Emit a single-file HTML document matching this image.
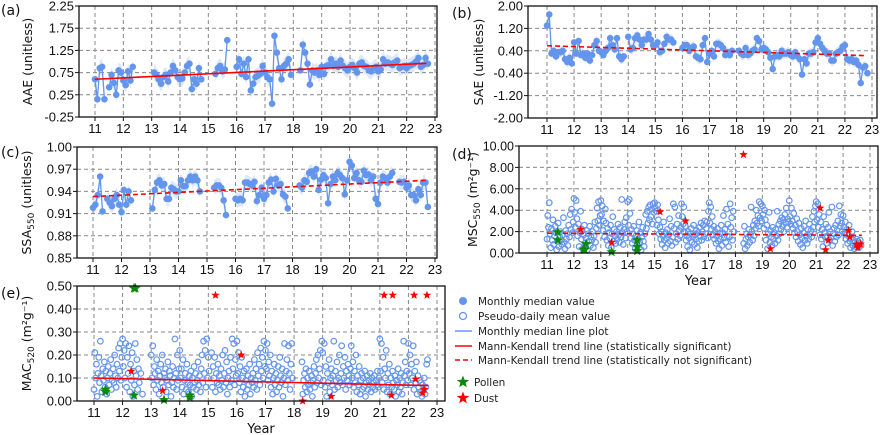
<!DOCTYPE html>
<html><head><meta charset="utf-8"><style>
html,body{margin:0;padding:0;background:#fff;}
svg{display:block;font-family:"DejaVu Sans","Liberation Sans",sans-serif;}
</style></head><body>
<svg id="fig" width="880" height="435" viewBox="0 0 880 435" xmlns="http://www.w3.org/2000/svg">
<g id="legend" font-size="10.5" fill="#222">
 <circle cx="463" cy="301" r="4" fill="#6495ED"/>
 <text x="478" y="305">Monthly median value</text>
 <circle cx="463" cy="316" r="3.5" fill="none" stroke="#6495ED" stroke-width="1.3"/>
 <text x="478" y="320">Pseudo-daily mean value</text>
 <line x1="455" y1="331" x2="472" y2="331" stroke="#6495ED" stroke-width="1.5"/>
 <text x="478" y="335">Monthly median line plot</text>
 <line x1="455" y1="346" x2="472" y2="346" stroke="#f00" stroke-width="1.5"/>
 <text x="478" y="350">Mann-Kendall trend line (statistically significant)</text>
 <line x1="455" y1="360" x2="472" y2="360" stroke="#f00" stroke-width="1.5" stroke-dasharray="5,3"/>
 <text x="478" y="364">Mann-Kendall trend line (statistically not significant)</text>
 <text x="474" y="386">Pollen</text>
 <text x="474" y="402">Dust</text>
</g>
</svg>
<script>
// ---------- data ----------
const aaeMonthly=[0.6,0.15,0.85,0.88,0.15,null,0.42,0.7,0.52,0.25,0.8,0.75,
0.57,0.47,0.78,0.57,0.88,null,null,null,null,null,null,null,
null,0.75,0.7,0.6,0.5,0.65,0.7,0.55,0.75,0.9,0.8,0.65,
0.6,0.62,0.75,0.9,0.95,0.38,0.6,0.5,0.85,0.6,null,null,
null,null,null,0.72,0.85,0.9,0.78,0.82,1.48,null,null,null,
0.88,1.05,0.72,0.95,0.65,1.05,0.35,0.5,0.65,0.68,0.72,0.9,
0.75,0.65,0.6,0.05,1.58,1.2,0.85,0.6,0.9,0.95,1.05,0.7,
null,null,null,0.8,1.38,1.2,0.95,0.48,0.8,0.75,0.8,0.7,
0.88,0.72,0.9,0.92,1.05,0.9,0.95,0.88,1.02,0.9,0.85,0.8,
0.88,0.92,0.85,0.75,0.95,0.98,0.9,0.88,0.8,0.78,0.85,0.88,
0.78,0.82,1.05,0.95,0.98,0.95,0.92,0.98,1.02,0.85,0.88,0.9,
0.85,0.9,0.92,0.95,1.0,1.08,0.88,0.92,1.08,0.95];
const saeMonthly=[1.3,1.7,0.3,0.4,0.2,0.35,0.35,0.4,0.1,0.0,0.15,-0.05,
0.7,0.3,0.75,0.25,0.3,0.15,0.3,0.05,0.25,0.6,0.75,0.4,
0.35,0.25,0.4,0.5,0.85,0.6,0.45,0.85,0.2,0.1,0.2,null,
0.9,0.45,0.5,0.85,0.95,0.8,0.6,0.8,0.8,1.0,0.8,0.6,
0.6,0.7,0.35,0.4,0.65,0.9,0.8,0.8,0.7,null,null,null,
0.5,0.6,0.6,0.4,0.5,0.55,0.2,0.15,0.1,0.6,0.85,0.0,
0.3,0.4,0.2,0.65,0.65,0.6,0.5,0.25,0.35,0.25,0.4,null,
null,0.4,0.3,0.25,0.5,0.25,0.3,0.4,0.45,0.85,0.75,0.45,
0.5,0.45,0.35,0.15,-0.25,0.2,0.25,0.2,0.4,0.3,0.3,0.35,
0.25,0.2,0.35,0.2,0.1,-0.45,0.1,-0.05,0.3,0.3,0.35,0.7,
0.85,0.65,0.5,0.4,0.3,0.3,0.05,0.05,0.3,0.35,0.4,0.55,
0.6,0.1,0.05,0.1,0.0,0.05,-0.1,-0.75,-0.2,-0.15,-0.4];
const ssaMonthly=[0.918,0.922,0.935,0.96,0.913,null,0.93,0.925,0.92,0.93,0.935,0.922,
0.912,0.942,0.922,0.94,0.928,null,null,null,null,null,null,null,
null,0.917,0.942,0.952,0.955,0.948,0.95,0.93,0.93,0.945,0.943,0.94,
0.94,0.955,0.947,0.947,0.955,0.96,0.955,0.96,0.955,0.94,null,null,
null,null,null,0.945,0.948,0.948,0.945,0.928,0.908,null,null,null,
0.93,0.928,0.93,0.928,0.952,0.952,0.95,0.948,0.953,0.927,0.935,0.945,
0.93,0.935,0.952,0.956,0.94,0.957,0.948,0.95,0.936,0.933,0.917,null,
null,null,null,0.948,0.945,0.955,0.953,0.965,0.967,0.96,0.97,0.942,
0.956,0.962,0.958,0.924,0.95,0.96,0.955,0.965,0.962,0.958,0.936,0.955,
0.98,0.975,0.958,0.965,0.955,0.953,0.968,0.962,0.963,0.955,0.96,0.93,
0.923,0.952,0.96,0.958,0.952,0.96,0.965,null,null,0.953,0.952,0.953,
0.945,0.948,0.935,0.935,0.928,0.943,0.935,0.952,0.952,0.919];

const dailyYears=[11,12,13,14,15,16,17,18,19,20,21,22];
const mscDaily=[
[1.3,3.5,2.4,4.7,1.8,0.5,2.3,1.2,3.1,0.8,1.6,2.5,1.9,0.3,1.1,2.8,0.6,1.5,2.0,1.2,0.8,1.7,3.3,1.0,0.4,2.1,1.3,1.8,0.7,2.6,1.5,3.6,2.2,4.1,1.9,2.9],
[5.1,3.8,2.4,4.9,3.2,1.6,2.7,0.6,1.9,3.9,1.3,2.2,0.4,1.7,2.6,0.9,1.4,2.1,0.3,1.8,1.1,2.5,0.7,1.5,1.2,2.0,0.5,1.6,2.9,1.0,2.3,4.2,3.0,4.8,2.6,3.5],
[4.9,3.6,4.4,2.1,3.0,1.5,4.1,2.8,1.2,2.3,0.7,1.9,1.4,2.6,0.5,1.8,3.4,1.1,2.2,1.6,0.9,2.0,1.3,2.7,1.7,1.0,2.4,1.5,5.0,1.9,0.8,2.2,2.9,1.4,3.3,2.0],
[4.8,2.6,5.0,3.7,1.4,2.2,0.9,1.8,2.5,1.2,0.4,1.6,2.1,0.7,1.3,2.9,1.0,1.9,0.3,1.5,2.4,1.1,0.6,1.8,3.6,2.3,3.9,2.8,4.3,3.1,4.5,3.4,4.1,2.7,4.6,3.8],
[4.7,4.2,3.9,2.6,4.5,3.1,1.8,2.4,1.3,2.0,0.8,1.6,2.9,1.2,0.5,1.9,1.4,2.2,0.9,1.7,3.2,1.1,2.5,0.7,1.5,4.6,2.3,4.3,1.0,1.8,2.7,1.3,3.5,2.1,1.6,2.4],
[4.6,3.4,2.7,4.3,1.9,2.5,1.2,1.6,0.6,2.0,1.4,0.3,1.8,2.3,1.0,1.5,2.6,0.8,1.7,1.3,2.1,0.5,1.9,1.1,2.4,1.6,2.8,1.2,2.0,2.6,1.5,3.0,1.8,2.3,2.9,1.4],
[3.9,4.7,2.8,4.3,2.2,3.4,1.7,2.5,1.3,2.0,0.9,1.6,2.3,1.1,0.4,1.8,1.3,2.6,0.7,1.9,3.5,1.4,2.2,1.0,4.1,1.6,2.7,0.6,1.5,4.6,2.4,3.3,1.2,3.9,2.0,null],
[null,null,null,null,null,null,null,null,null,null,null,0.9,2.5,0.4,1.3,1.8,0.7,1.5,2.2,1.0,1.7,4.3,2.0,1.2,2.6,1.6,3.0,2.3,4.0,2.8,3.5,2.5,4.8,3.3,4.6,3.0],
[4.4,3.6,2.3,4.0,3.1,1.2,2.6,0.4,1.8,3.8,1.0,2.1,1.5,0.7,2.4,1.3,1.9,0.9,2.2,1.6,3.9,1.2,2.7,1.8,3.0,2.2,3.3,2.5,3.1,2.0,3.6,2.8,4.2,2.4,3.2,2.9],
[4.9,3.4,2.7,4.2,3.0,2.3,3.7,1.9,2.6,1.5,3.2,2.0,1.1,2.8,1.7,0.8,2.3,1.4,0.5,1.9,2.5,1.2,3.0,1.6,0.9,2.2,1.3,2.7,1.8,2.1,1.5,3.4,2.4,3.9,2.9,4.4],
[4.8,3.1,4.6,2.4,3.6,1.7,2.9,1.3,2.2,0.6,3.4,1.9,1.5,2.7,0.9,1.6,2.4,3.8,1.2,2.0,1.4,4.3,0.7,1.8,2.3,1.1,2.6,1.5,2.1,3.0,1.7,4.4,2.5,3.6,2.8,2.0],
[3.5,2.4,1.8,2.9,1.3,2.2,0.9,1.6,2.6,1.1,0.5,1.4,2.0,0.7,1.2,0.4,1.0,0.6,1.3,0.8,1.1,0.5,0.9,1.2,0.7]];
const macDaily=[
[0.05,0.21,0.1,0.16,0.02,0.12,0.19,0.08,0.26,0.11,0.04,0.14,0.09,0.17,0.06,0.13,0.03,0.1,0.15,0.07,0.12,0.18,0.05,0.09,0.14,0.08,0.2,0.11,0.06,0.16,0.1,0.23,0.13,0.25,0.09,0.19],
[0.27,0.15,0.22,0.1,0.25,0.06,0.19,0.12,0.24,0.04,0.16,0.09,0.21,0.02,0.13,0.07,0.25,0.11,0.18,0.05,0.14,0.08,null,0.12,null,0.03,null,null,null,null,null,null,null,null,null,null],
[0.2,0.1,0.24,0.07,0.15,0.12,0.05,0.18,0.09,0.13,0.03,0.11,0.16,0.08,0.2,0.06,0.12,0.1,0.14,0.04,0.09,0.17,0.07,0.13,0.11,0.02,0.08,0.15,0.06,0.1,0.27,0.12,0.05,0.2,0.09,0.14],
[0.22,0.1,0.14,0.06,0.18,0.03,0.09,0.12,0.05,0.16,0.08,0.04,0.11,0.07,0.13,0.02,0.1,0.06,0.15,0.08,0.12,0.05,0.09,0.17,0.07,0.11,0.04,0.14,0.2,0.08,0.26,0.12,0.22,0.06,0.27,0.1],
[0.19,0.13,null,null,0.21,0.06,0.15,0.1,0.19,0.04,0.12,0.08,0.16,0.07,0.11,0.05,0.14,0.09,0.2,0.06,0.12,0.22,0.08,0.17,0.03,0.1,0.13,0.06,0.19,0.09,0.27,0.14,0.25,0.07,0.18,0.11],
[0.26,0.12,0.21,0.08,0.15,0.04,0.19,0.1,0.06,0.13,0.02,0.09,0.14,0.05,0.11,0.07,0.16,0.03,0.1,0.08,0.12,0.06,0.18,0.09,0.14,0.05,0.21,0.11,0.16,0.07,0.23,0.13,0.19,0.1,0.26,0.15],
[0.22,0.14,0.25,0.09,0.17,0.11,0.2,0.06,0.13,0.03,0.1,0.16,0.07,0.12,0.04,0.09,0.15,0.06,0.19,0.11,0.08,0.14,0.02,0.1,0.25,0.07,0.13,0.18,0.09,0.24,0.12,0.05,0.16,0.25,0.1,null],
[null,null,null,null,null,null,null,null,null,null,0.17,0.03,0.09,0.12,0.06,0.14,0.04,0.1,0.07,0.13,0.05,0.08,0.11,0.02,0.09,0.15,0.06,0.12,0.18,0.08,0.2,0.1,0.14,0.22,0.07,0.26],
[0.21,0.09,0.25,0.06,0.15,0.02,0.12,0.08,0.18,0.04,0.1,0.14,0.07,0.11,0.26,0.05,0.13,0.09,0.17,0.06,0.1,0.2,0.08,0.12,0.24,0.07,0.15,0.1,0.19,0.05,0.13,0.09,0.16,0.11,0.07,0.14],
[0.24,0.1,0.17,0.06,0.13,0.08,0.2,0.04,0.11,0.07,0.15,0.03,0.09,0.12,0.05,0.1,0.06,0.13,0.02,0.08,0.11,0.05,0.09,0.07,0.12,0.04,0.1,0.06,0.08,0.11,0.05,0.09,0.07,0.13,0.06,0.1],
[0.27,0.13,0.25,0.08,0.19,0.05,0.14,0.1,0.22,0.04,0.12,0.07,0.16,0.03,0.1,0.06,0.13,0.08,0.05,0.11,0.02,0.09,0.07,0.14,0.04,0.1,0.06,0.12,0.03,0.08,0.26,0.11,0.17,0.07,0.13,0.09],
[0.25,0.12,0.2,0.07,0.16,0.1,0.24,0.05,0.13,0.08,0.17,0.03,0.11,0.06,0.09,0.04,0.08,0.02,0.07,0.05,0.1,0.03,0.06,0.16,0.18]];

const mscDustX=[12.25,13.4,15.2,16.15,18.3,19.3,21.15,21.35,21.45,22.2,22.25,22.5,22.55,22.65];
const mscDustY=[2.2,1.0,3.85,3.0,9.2,0.4,4.2,0.3,1.2,2.1,1.5,0.8,0.5,0.85];
const mscPollenX=[11.4,11.4,12.35,12.4,12.45,13.4,14.35,14.35,14.35];
const mscPollenY=[1.95,1.2,0.35,0.3,0.85,0.1,1.2,0.6,0.2];
const macDustX=[12.3,13.4,15.25,16.15,18.3,19.3,21.15,21.45,21.4,22.2,22.25,22.55,22.5,22.65];
const macDustY=[0.13,0.045,0.46,0.2,0.0,0.02,0.46,0.46,0.025,0.46,0.095,0.05,0.035,0.46];
const macPollenX=[11.4,11.4,12.4,12.45,12.4,13.45,14.35,14.35];
const macPollenY=[0.05,0.04,0.49,0.49,0.025,0.005,0.025,0.015];

const trendA=[0.6,0.96], trendB=[0.58,0.23], trendC=[0.933,0.955], trendD=[1.85,1.65], trendE=[0.1,0.067];
const trendX=[11.0,22.7];
const yearTicks=[11,12,13,14,15,16,17,18,19,20,21,22,23];
const ticksA=[-0.25,0.25,0.75,1.25,1.75,2.25];
const ticksB=[-2.0,-1.2,-0.4,0.4,1.2,2.0];
const ticksC=[0.85,0.88,0.91,0.94,0.97,1.00];
const ticksD=[0,2,4,6,8,10];
const ticksE=[0,0.1,0.2,0.3,0.4,0.5];

// ---------- drawing ----------
const NS="http://www.w3.org/2000/svg";
const svg=document.getElementById('fig');
function mk(tag,attrs,parent){const e=document.createElementNS(NS,tag);for(const k in attrs)e.setAttribute(k,attrs[k]);(parent||svg).appendChild(e);return e;}
const BLUE="#6495ED";
const TF='"Liberation Sans", sans-serif';
function starPath(cx,cy,r){let d="";for(let i=0;i<10;i++){const a=-Math.PI/2+i*Math.PI/5;const rr=i%2?r*0.42:r;d+=(i?"L":"M")+(cx+rr*Math.cos(a)).toFixed(1)+","+(cy+rr*Math.sin(a)).toFixed(1);}return d+"Z";}

function panel(cfg){
  const g=mk('g',{});
  
  
  const xs=v=>cfg.x11+(v-11)*(cfg.x23-cfg.x11)/12;
  const ys=v=>cfg.B-(v-cfg.ymin)/(cfg.ymax-cfg.ymin)*(cfg.B-cfg.T);
  const cid='clip-'+cfg.name;
  const cp=mk('clipPath',{id:cid},g);mk('rect',{x:cfg.L,y:cfg.T,width:cfg.R-cfg.L,height:cfg.B-cfg.T},cp);
  yearTicks.forEach(t=>{const l=mk('line',{x1:xs(t),x2:xs(t),y1:cfg.T,y2:cfg.B,stroke:'#888','stroke-width':1,'stroke-dasharray':'4,3'},g);});
  cfg.ticks.forEach(t=>{const l=mk('line',{x1:cfg.L,x2:cfg.R,y1:ys(t),y2:ys(t),stroke:'#888','stroke-width':1,'stroke-dasharray':'4,3'},g);});
  const plot=mk('g',{'clip-path':'url(#'+cid+')'},g);
  
  
  if(cfg.monthly){
    const m=cfg.monthly;let segs=[],cur=[];
    m.forEach((v,i)=>{if(v===null){if(cur.length)segs.push(cur);cur=[];}else cur.push([11+i/12,v]);});
    if(cur.length)segs.push(cur);
    segs.forEach(s=>{
      if(s.length>1){
        const up=s.map(p=>xs(p[0])+','+ys(p[1]+cfg.band)).join(' ');
        const lo=s.slice().reverse().map(p=>xs(p[0])+','+ys(p[1]-cfg.band)).join(' ');
        const b=mk('polygon',{points:up+' '+lo,fill:BLUE,'fill-opacity':0.22},plot);
        
        const pl=mk('polyline',{points:s.map(p=>xs(p[0])+','+ys(p[1])).join(' '),fill:'none',stroke:BLUE,'stroke-width':1.3},plot);
        
      }
    });
    m.forEach((v,i)=>{if(v===null)return;const c=mk('circle',{cx:xs(11+i/12),cy:ys(v),r:3.3,fill:BLUE},plot);});
  }
  if(cfg.daily){
    cfg.daily.forEach((arr,k)=>{arr.forEach((v,i)=>{if(v===null)return;
      const c=mk('circle',{cx:xs(dailyYears[k]+i/36),cy:ys(v),r:2.8,fill:'none',stroke:BLUE,'stroke-width':1.2},plot);
      });});
  }
  const tr=mk('line',{x1:xs(trendX[0]),y1:ys(cfg.trend[0]),x2:xs(trendX[1]),y2:ys(cfg.trend[1]),stroke:'#f00','stroke-width':1.6},plot);
  if(cfg.dashed)tr.setAttribute('stroke-dasharray','5,3');
  
  if(cfg.pollenX){cfg.pollenX.forEach((x,i)=>{const s=mk('path',{d:starPath(xs(x),ys(cfg.pollenY[i]),5.5),fill:'#0a8a0a'},g);});}
  if(cfg.dustX){cfg.dustX.forEach((x,i)=>{const s=mk('path',{d:starPath(xs(x),ys(cfg.dustY[i]),4.5),fill:'#f00'},g);});}
  const fr=mk('rect',{x:cfg.L,y:cfg.T,width:cfg.R-cfg.L,height:cfg.B-cfg.T,fill:'none',stroke:'#111','stroke-width':1.3},g);
  
  yearTicks.forEach(t=>{mk('line',{x1:xs(t),x2:xs(t),y1:cfg.B,y2:cfg.B+4,stroke:'#111'},g);
    const tx=mk('text',{x:xs(t),y:cfg.B+16,'text-anchor':'middle','font-size':13,'font-family':TF,fill:'#111'},g);tx.textContent=String(t);
    });
  cfg.ticks.forEach(t=>{mk('line',{x1:cfg.L-4,x2:cfg.L,y1:ys(t),y2:ys(t),stroke:'#111'},g);
    const tx=mk('text',{x:cfg.L-5,y:ys(t)+4.5,'text-anchor':'end','font-size':cfg.tfs||13,'font-family':TF,fill:'#111'},g);tx.textContent=t.toFixed(2);
    });
  const yt=mk('text',{x:0,y:0,transform:'translate('+cfg.ytx+','+((cfg.T+cfg.B)/2)+') rotate(-90)','text-anchor':'middle','font-size':12.5,fill:'#111'},g);
  yt.innerHTML=cfg.ytitle;
  
  const pl=mk('text',{x:cfg.plx,y:cfg.ply,'font-size':14,fill:'#111'},g);pl.textContent=cfg.label;
  
  if(cfg.xtitle){const xt=mk('text',{x:(cfg.L+cfg.R)/2,y:cfg.B+32,'text-anchor':'middle','font-size':13,fill:'#111'},g);xt.textContent='Year';
    }
}
const sub=s=>'<tspan font-size="9" dy="3">'+s+'</tspan><tspan dy="-3"> </tspan>';
panel({name:'panel-a-aae',L:79,R:437,T:6,B:117,x11:95,x23:435,ymin:-0.25,ymax:2.25,ticks:ticksA,monthly:aaeMonthly,band:0.18,trend:trendA,dashed:false,ytx:32,ytitle:'AAE (unitless)',label:'(a)',plx:1,ply:15});
panel({name:'panel-b-sae',L:528,R:877,T:6,B:118,x11:547,x23:872,ymin:-2,ymax:2,ticks:ticksB,monthly:saeMonthly,band:0.2,trend:trendB,dashed:true,ytx:483,ytitle:'SAE (unitless)',label:'(b)',plx:452,ply:18});
panel({name:'panel-c-ssa',L:77,R:437,T:147,B:258,x11:93,x23:435,ymin:0.85,ymax:1.0,ticks:ticksC,monthly:ssaMonthly,band:0.01,trend:trendC,dashed:true,ytx:31,ytitle:'SSA'+sub('550')+'(unitless)',label:'(c)',plx:1,ply:157});
panel({name:'panel-d-msc',L:519,R:878,T:146,B:253,x11:547,x23:870,ymin:0,ymax:10,ticks:ticksD,tfs:12.5,daily:mscDaily,trend:trendD,dashed:true,dustX:mscDustX,dustY:mscDustY,pollenX:mscPollenX,pollenY:mscPollenY,ytx:477,ytitle:'MSC'+sub('550')+'(m²g⁻¹)',label:'(d)',plx:452,ply:159,xtitle:true});
panel({name:'panel-e-mac',L:77,R:445,T:286,B:401,x11:94,x23:437,ymin:0,ymax:0.5,ticks:ticksE,daily:macDaily,trend:trendE,dashed:false,dustX:macDustX,dustY:macDustY,pollenX:macPollenX,pollenY:macPollenY,ytx:31,ytitle:'MAC'+sub('520')+'(m²g⁻¹)',label:'(e)',plx:1,ply:298,xtitle:true});
const lg=document.getElementById('legend');
const ps=mk('path',{d:starPath(463,382,6.5),fill:'#0a8a0a'},lg);


const ds=mk('path',{d:starPath(463,398,6.5),fill:'#f00'},lg);


</script>
</body></html>
